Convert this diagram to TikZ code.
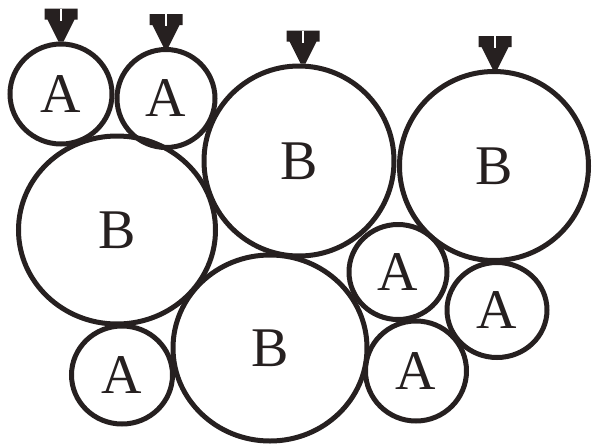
\documentclass[tikz,border=0pt]{standalone}
\usepackage{fontspec}
\setmainfont{Liberation Serif}
\usetikzlibrary{shapes.geometric}
\definecolor{ink}{RGB}{38,32,32}
\tikzset{
  ball/.style={ellipse, draw=ink, line width=5pt, inner sep=0pt, text=ink,
    font=\fontsize{56}{60}\selectfont},
  wedgemark/.pic={
    \fill[ink] (-2.5pt,0pt) -- (2.5pt,0pt) -- (13.5pt,22pt) -- (16.5pt,22pt) -- (16.5pt,33pt)
      -- (-16.5pt,33pt) -- (-16.5pt,22pt) -- (-13.5pt,22pt) -- cycle;
    \draw[white, line width=1.2pt] (0pt,33pt) -- (0pt,21pt);
  }
}
\begin{document}
\begin{tikzpicture}[x=1pt,y=-1pt]
\path[use as bounding box] (0,0) rectangle (592,445);
\node[ball, minimum width=102pt, minimum height=100pt] (c1) at (61,94) {A};
\node[ball, minimum width=98pt, minimum height=98pt] (c2) at (166,98.5) {A};
\node[ball, minimum width=190pt, minimum height=190pt] (c3) at (299,161) {B};
\node[ball, minimum width=189pt, minimum height=189pt] (c4) at (494,166) {B};
\node[ball, minimum width=197pt, minimum height=188pt] (c5) at (117,230) {B};
\node[ball, minimum width=98pt, minimum height=95pt] (c6) at (398,272) {A};
\node[ball, minimum width=100pt, minimum height=95pt] (c7) at (497,310) {A};
\node[ball, minimum width=194pt, minimum height=186pt] (c8) at (270,348) {B};
\node[ball, minimum width=101pt, minimum height=98pt] (c9) at (122,375) {A};
\node[ball, minimum width=101pt, minimum height=100pt] (c10) at (416,371) {A};
\pic at (c1.north) {wedgemark};
\pic at (c2.north) {wedgemark};
\pic at ([xshift=4pt]c3.north) {wedgemark};
\pic at ([xshift=1pt]c4.north) {wedgemark};
\end{tikzpicture}
\end{document}
